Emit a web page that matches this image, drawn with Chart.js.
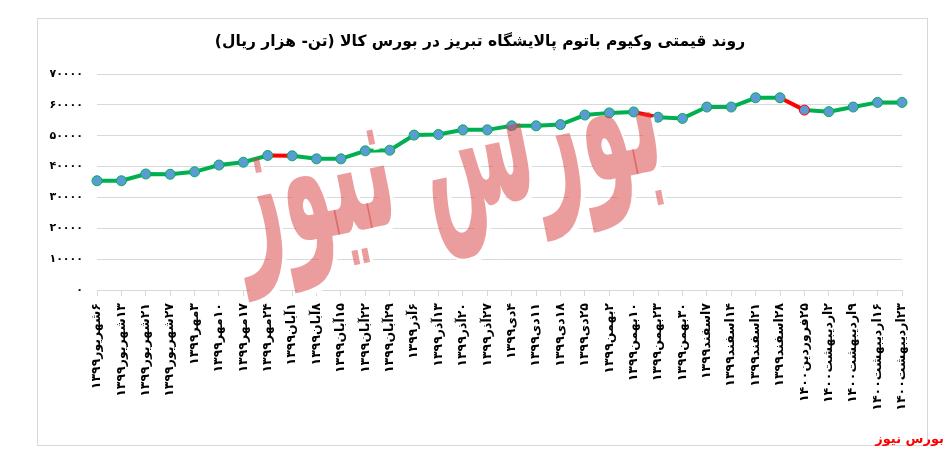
<!DOCTYPE html>
<html>
<head>
<meta charset="utf-8">
<script src="https://cdn.jsdelivr.net/npm/chart.js@4.4.0/dist/chart.umd.min.js"></script>
<style>
  body { margin: 0; background: #fff; }
  #wrap { width: 947px; height: 451px; position: relative; }
</style>
</head>
<body>
<div id="wrap"><canvas id="price-chart" width="947" height="451" dir="rtl"></canvas></div>
<script>
const chartTitle = "روند قیمتی وکیوم باتوم پالایشگاه تبریز در بورس کالا (تن- هزار ریال)";
const sourceText = "بورس نیوز";

const dates = [
  "۶شهریور۱۳۹۹", "۱۳شهریور۱۳۹۹", "۲۱شهریور۱۳۹۹", "۲۷شهریور۱۳۹۹",
  "۳مهر۱۳۹۹", "۱۰مهر۱۳۹۹", "۱۷مهر۱۳۹۹", "۲۴مهر۱۳۹۹",
  "۱آبان۱۳۹۹", "۸آبان۱۳۹۹", "۱۵آبان۱۳۹۹", "۲۲آبان۱۳۹۹", "۲۹آبان۱۳۹۹",
  "۶آذر۱۳۹۹", "۱۳آذر۱۳۹۹", "۲۰آذر۱۳۹۹", "۲۷آذر۱۳۹۹",
  "۴دی۱۳۹۹", "۱۱دی۱۳۹۹", "۱۸دی۱۳۹۹", "۲۵دی۱۳۹۹",
  "۲بهمن۱۳۹۹", "۱۰بهمن۱۳۹۹", "۲۳بهمن۱۳۹۹", "۳۰بهمن۱۳۹۹",
  "۷اسفند۱۳۹۹", "۱۴اسفند۱۳۹۹", "۲۱اسفند۱۳۹۹", "۲۸اسفند۱۳۹۹",
  "۲۵فروردین۱۴۰۰", "۲اردیبهشت۱۴۰۰", "۹اردیبهشت۱۴۰۰", "۱۶اردیبهشت۱۴۰۰", "۲۳اردیبهشت۱۴۰۰"
];

const prices = [
  35400, 35400, 37600, 37500,
  38300, 40500, 41400, 43600,
  43500, 42500, 42500, 45100, 45300,
  50200, 50400, 51900, 51900,
  53200, 53200, 53600, 56700,
  57400, 57700, 56000, 55600,
  59300, 59300, 62300, 62300,
  58300, 57800, 59300, 60800, 60800
];

const yTicks = [0, 10000, 20000, 30000, 40000, 50000, 60000, 70000];

// segments drawn red in the original (index of the starting point)
const redSegments = [7, 22, 28];
const redMarkers = [29];

const GREEN = "#00b050";
const RED = "#ff0000";
const FONT = "'DejaVu Sans', sans-serif";

function faDigits(n) {
  return String(n).replace(/\d/g, (d) => "۰۱۲۳۴۵۶۷۸۹"[d]);
}

const framePlugin = {
  id: "frame",
  beforeDraw(chart) {
    const ctx = chart.ctx;
    ctx.save();
    ctx.fillStyle = "#fff";
    ctx.fillRect(0, 0, chart.width, chart.height);
    ctx.strokeStyle = "#d9d9d9";
    ctx.lineWidth = 1;
    ctx.strokeRect(37.5, 18.5, 890, 427);
    ctx.restore();
  },
  afterDraw(chart) {
    const ctx = chart.ctx;
    ctx.save();
    ctx.textBaseline = "middle";
    ctx.textAlign = "center";
    ctx.fillStyle = "#000";
    ctx.font = "bold 15.5px " + FONT;
    ctx.fillText(chartTitle, 480, 42);
    ctx.font = "bold 13px " + FONT;
    ctx.fillStyle = RED;
    ctx.textAlign = "right";
    ctx.fillText(sourceText, 944, 440);
    ctx.restore();
  },
};

const watermarkPlugin = {
  id: "watermark",
  afterDatasetsDraw(chart) {
    const ctx = chart.ctx;
    ctx.save();
    ctx.translate(445, 160);
    ctx.rotate(-0.2);
    ctx.scale(0.82, 2);
    ctx.font = "bold 100px " + FONT;
    ctx.textAlign = "center";
    ctx.textBaseline = "middle";
    ctx.fillStyle = "rgba(255,255,255,0.9)";
    ctx.fillText(sourceText, 4, 3);
    ctx.fillStyle = "rgba(215,60,60,0.5)";
    ctx.fillText(sourceText, 0, 0);
    ctx.restore();
  },
};

new Chart(document.getElementById("price-chart"), {
  type: "line",
  data: {
    labels: dates,
    datasets: [
      {
        data: prices,
        borderColor: GREEN,
        borderWidth: 4,
        tension: 0,
        pointRadius: 5,
        pointBorderWidth: 1,
        pointBackgroundColor: "#5b9bd5",
        pointBorderColor: prices.map((v, i) => (redMarkers.includes(i) ? RED : GREEN)),
        segment: {
          borderColor: (ctx) => (redSegments.includes(ctx.p0DataIndex) ? RED : GREEN),
        },
      },
    ],
  },
  options: {
    responsive: false,
    animation: false,
    layout: { padding: { left: 0, right: 45, top: 74, bottom: 0 } },
    plugins: {
      legend: { display: false },
      tooltip: { enabled: false },
      title: { display: false },
    },
    scales: {
      x: {
        offset: false,
        grid: { display: true, drawOnChartArea: false, tickLength: 6, color: "#d9d9d9" },
        border: { color: "#d9d9d9" },
        ticks: {
          minRotation: 90,
          maxRotation: 90,
          autoSkip: false,
          padding: 7,
          color: "#000",
          font: { family: FONT, size: 12.5, weight: "bold" },
        },
        afterFit(scale) {
          scale.height = 161;
        },
      },
      y: {
        min: 0,
        max: 70000,
        afterBuildTicks(scale) {
          scale.ticks = yTicks.map((v) => ({ value: v }));
        },
        grid: { color: "#d9d9d9", drawTicks: false },
        border: { display: false },
        ticks: {
          padding: 14,
          color: "#000",
          font: { family: FONT, size: 11, weight: "bold" },
          callback: (v) => faDigits(v),
        },
        afterFit(scale) {
          scale.width = 97;
        },
      },
    },
  },
  plugins: [framePlugin, watermarkPlugin],
});
</script>
</body>
</html>
